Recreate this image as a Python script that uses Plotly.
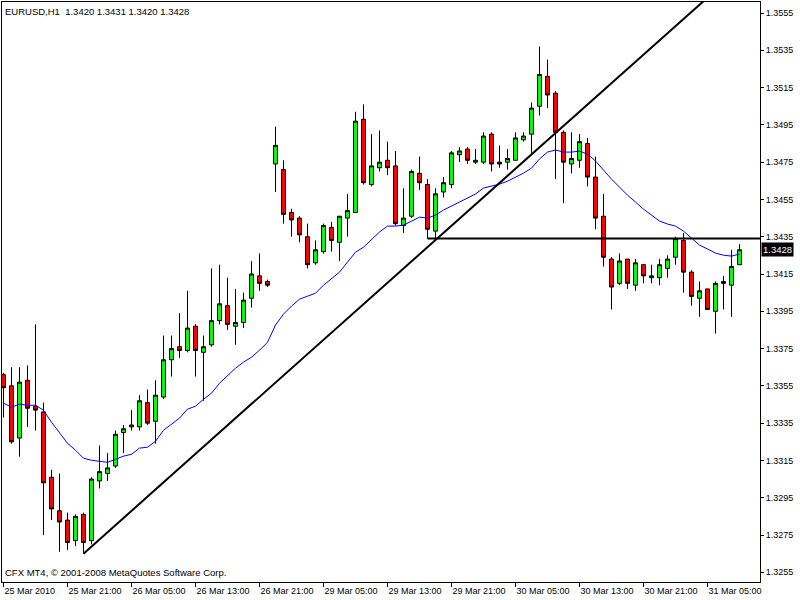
import plotly.graph_objects as go

# ---- data (EURUSD H1) ----
bars = list(range(93))
opens = [1.3361, 1.3355, 1.3327, 1.3358, 1.3344, 1.3341, 1.3306, 1.3288, 1.3283, 1.3272,
         1.3286, 1.3272, 1.3304, 1.3308, 1.3312, 1.3330, 1.3333, 1.3333, 1.3346, 1.3336,
         1.3349, 1.3369, 1.3376, 1.3374, 1.3387, 1.3373, 1.3377, 1.3390, 1.3398, 1.3387,
         1.3389, 1.3402, 1.3414, 1.3411, 1.3474, 1.3471, 1.3448, 1.3445, 1.3435, 1.3421,
         1.3427, 1.3440, 1.3432, 1.3445, 1.3448, 1.3498, 1.3463, 1.3472, 1.3476, 1.3473,
         1.3441, 1.3446, 1.3469, 1.3463, 1.3438, 1.3459, 1.3463, 1.3479, 1.3482, 1.3475,
         1.3475, 1.3490, 1.3475, 1.3475, 1.3476, 1.3487, 1.3490, 1.3505, 1.3521, 1.3512,
         1.3491, 1.3474, 1.3476, 1.3485, 1.3467, 1.3446, 1.3423, 1.3410, 1.3423, 1.3409,
         1.3420, 1.3413, 1.3413, 1.3418, 1.3424, 1.3433, 1.3416, 1.3402, 1.3407, 1.3395,
         1.3411, 1.3409, 1.3420]
highs = [1.3362, 1.3365, 1.3365, 1.3366, 1.3388, 1.3346, 1.3310, 1.3308, 1.3287, 1.3286,
         1.3287, 1.3306, 1.3323, 1.3319, 1.3331, 1.3334, 1.3342, 1.3350, 1.3353, 1.3358,
         1.3382, 1.3382, 1.3394, 1.3406, 1.3388, 1.3382, 1.3418, 1.3420, 1.3413, 1.3407,
         1.3405, 1.3422, 1.3426, 1.3412, 1.3494, 1.3476, 1.3450, 1.3446, 1.3442, 1.3433,
         1.3442, 1.3443, 1.3446, 1.3458, 1.3502, 1.3506, 1.3490, 1.3492, 1.3486, 1.3481,
         1.3461, 1.3471, 1.3478, 1.3466, 1.3461, 1.3467, 1.3481, 1.3483, 1.3483, 1.3482,
         1.3491, 1.3491, 1.3484, 1.3482, 1.3491, 1.3491, 1.3507, 1.3537, 1.3530, 1.3513,
         1.3492, 1.3491, 1.3490, 1.3488, 1.3478, 1.3458, 1.3424, 1.3426, 1.3423, 1.3423,
         1.3420, 1.3420, 1.3423, 1.3425, 1.3435, 1.3437, 1.3417, 1.3411, 1.3407, 1.3411,
         1.3414, 1.3428, 1.3431]
lows = [1.3338, 1.3324, 1.3317, 1.3333, 1.3331, 1.3275, 1.3283, 1.3266, 1.3267, 1.3269,
        1.3265, 1.3270, 1.3300, 1.3304, 1.3311, 1.3319, 1.3331, 1.3331, 1.3334, 1.3324,
        1.3348, 1.3360, 1.3370, 1.3373, 1.3360, 1.3347, 1.3376, 1.3388, 1.3385, 1.3377,
        1.3386, 1.3397, 1.3406, 1.3408, 1.3459, 1.3442, 1.3435, 1.3432, 1.3418, 1.3420,
        1.3426, 1.3427, 1.3422, 1.3435, 1.3448, 1.3463, 1.3462, 1.3470, 1.3468, 1.3441,
        1.3437, 1.3445, 1.3460, 1.3434, 1.3434, 1.3456, 1.3461, 1.3475, 1.3474, 1.3474,
        1.3474, 1.3470, 1.3472, 1.3471, 1.3476, 1.3486, 1.3480, 1.3500, 1.3504, 1.3466,
        1.3453, 1.3469, 1.3472, 1.3462, 1.3439, 1.3419, 1.3396, 1.3409, 1.3407, 1.3406,
        1.3410, 1.3410, 1.3409, 1.3413, 1.3420, 1.3405, 1.3398, 1.3392, 1.3396, 1.3383,
        1.3396, 1.3392, 1.3420]
closes = [1.3354, 1.3325, 1.3357, 1.3343, 1.3342, 1.3303, 1.3289, 1.3282, 1.3271, 1.3285,
          1.3271, 1.3305, 1.3309, 1.3311, 1.3329, 1.3332, 1.3334, 1.3347, 1.3335, 1.3350,
          1.3369, 1.3375, 1.3374, 1.3386, 1.3374, 1.3376, 1.3390, 1.3399, 1.3388, 1.3389,
          1.3401, 1.3415, 1.3410, 1.3409, 1.3484, 1.3447, 1.3444, 1.3436, 1.3420, 1.3428,
          1.3441, 1.3433, 1.3446, 1.3449, 1.3497, 1.3464, 1.3473, 1.3475, 1.3472, 1.3442,
          1.3445, 1.3470, 1.3464, 1.3439, 1.3458, 1.3464, 1.3480, 1.3481, 1.3476, 1.3476,
          1.3489, 1.3474, 1.3474, 1.3477, 1.3488, 1.3489, 1.3504, 1.3522, 1.3511, 1.3491,
          1.3475, 1.3477, 1.3486, 1.3467, 1.3445, 1.3424, 1.3408, 1.3422, 1.3410, 1.3421,
          1.3414, 1.3414, 1.3420, 1.3423, 1.3434, 1.3416, 1.3403, 1.3406, 1.3396, 1.3410,
          1.3410, 1.3419, 1.3428]
ma_values = [1.33457, 1.33436, 1.33452, 1.33446, 1.33446, 1.33419, 1.33355, 1.33301, 1.33242, 1.33205,
             1.33162, 1.33151, 1.33146, 1.33140, 1.33156, 1.33173, 1.33183, 1.33216, 1.33221, 1.33253,
             1.33312, 1.33344, 1.33377, 1.33425, 1.33441, 1.33478, 1.33511, 1.33564, 1.33602, 1.33645,
             1.33677, 1.33704, 1.33741, 1.33784, 1.33876, 1.33935, 1.33978, 1.34015, 1.34031, 1.34047,
             1.34090, 1.34123, 1.34160, 1.34214, 1.34267, 1.34294, 1.34332, 1.34375, 1.34407, 1.34407,
             1.34412, 1.34434, 1.34455, 1.34450, 1.34466, 1.34493, 1.34514, 1.34536, 1.34557, 1.34579,
             1.34611, 1.34622, 1.34632, 1.34648, 1.34670, 1.34691, 1.34718, 1.34767, 1.34804, 1.34815,
             1.34804, 1.34804, 1.34809, 1.34793, 1.34756, 1.34707, 1.34659, 1.34616, 1.34573, 1.34536,
             1.34498, 1.34466, 1.34434, 1.34418, 1.34407, 1.34380, 1.34343, 1.34305, 1.34284, 1.34262,
             1.34251, 1.34246, 1.34257]

trend_bars = [10, 95]
trend_prices = [1.3265, 1.3590]
level_bars = [53, 95]
level_prices = [1.3434, 1.3434]

tick_bars = [0, 8, 16, 24, 32, 40, 48, 56, 64, 72, 80, 88]
tick_labels = ["25 Mar 2010", "25 Mar 21:00", "26 Mar 05:00", "26 Mar 13:00", "26 Mar 21:00",
               "29 Mar 05:00", "29 Mar 13:00", "29 Mar 21:00", "30 Mar 05:00", "30 Mar 13:00",
               "30 Mar 21:00", "31 Mar 05:00"]
price_ticks = [1.3255, 1.3275, 1.3295, 1.3315, 1.3335, 1.3355, 1.3375, 1.3395, 1.3415,
               1.3435, 1.3455, 1.3475, 1.3495, 1.3515, 1.3535, 1.3555]
price_labels = ["1.3255", "1.3275", "1.3295", "1.3315", "1.3335", "1.3355", "1.3375", "1.3395",
                "1.3415", "1.3435", "1.3455", "1.3475", "1.3495", "1.3515", "1.3535", "1.3555"]
last_price = 1.3428
last_label = "1.3428"
header = "EURUSD,H1\u00a0\u00a01.3420 1.3431 1.3420 1.3428"
footer = "CFX MT4, © 2001-2008 MetaQuotes Software Corp."

FONT = "Liberation Sans"

fig = go.Figure()
fig.add_trace(go.Candlestick(
    x=bars, open=opens, high=highs, low=lows, close=closes,
    increasing=dict(fillcolor="#00FF00", line=dict(color="black", width=1)),
    decreasing=dict(fillcolor="#FF0000", line=dict(color="black", width=1)),
    whiskerwidth=0, showlegend=False, hoverinfo="skip"))
fig.add_trace(go.Scatter(x=bars, y=ma_values, mode="lines",
                         line=dict(color="#0000FF", width=1), showlegend=False, hoverinfo="skip"))
fig.add_trace(go.Scatter(x=trend_bars, y=trend_prices, mode="lines",
                         line=dict(color="black", width=2), showlegend=False, hoverinfo="skip"))
fig.add_trace(go.Scatter(x=level_bars, y=level_prices, mode="lines",
                         line=dict(color="black", width=2), showlegend=False, hoverinfo="skip"))

fig.update_layout(
    width=800, height=600,
    margin=dict(l=2, r=40, t=2, b=18, pad=0, autoexpand=False),
    paper_bgcolor="white", plot_bgcolor="white",
    boxgap=0.5, boxgroupgap=0,
    font=dict(family=FONT, size=9, color="black"),
    xaxis=dict(range=[-0.1875, 94.5625], rangeslider=dict(visible=False), automargin=False,
               tickmode="array", tickvals=tick_bars, ticktext=tick_labels,
               ticks="outside", ticklen=4, tickcolor="black", ticklabelposition="outside right",
               showline=True, linecolor="black", linewidth=1, mirror=True,
               showgrid=False, zeroline=False, fixedrange=True,
               tickfont=dict(family=FONT, size=9)),
    yaxis=dict(range=[1.32498, 1.35609], side="right", automargin=False,
               tickmode="array", tickvals=price_ticks, ticktext=price_labels,
               ticks="outside", ticklen=3, tickcolor="black",
               showline=True, linecolor="black", linewidth=1, mirror=True,
               showgrid=False, zeroline=False, fixedrange=True,
               tickfont=dict(family=FONT, size=9)),
    annotations=[
        dict(text=header, xref="paper", yref="paper", x=0, y=1, xanchor="left", yanchor="top",
             xshift=1, yshift=-2, showarrow=False, font=dict(family=FONT, size=9.5, color="black")),
        dict(text=footer, xref="paper", yref="paper", x=0, y=0, xanchor="left", yanchor="bottom",
             xshift=1, yshift=2, showarrow=False, font=dict(family=FONT, size=9.5, color="black")),
        dict(text=last_label, xref="paper", yref="y", x=1, y=last_price,
             xanchor="left", yanchor="middle", xshift=1, showarrow=False,
             bgcolor="black", borderpad=1, font=dict(family=FONT, size=9.5, color="white")),
    ],
)

fig.write_html("out.html", config={"displayModeBar": False},
               post_script="document.body.style.margin='0';")
